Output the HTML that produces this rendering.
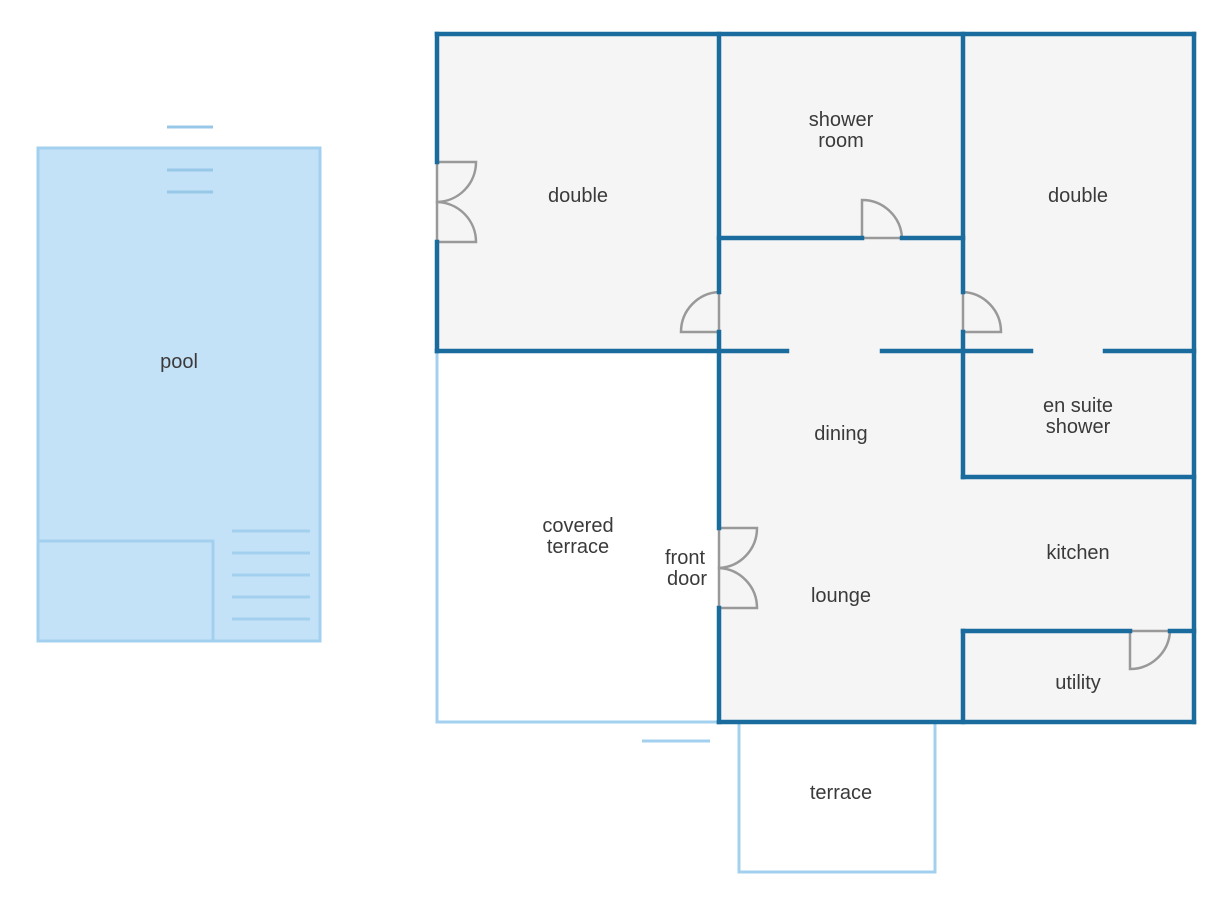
<!DOCTYPE html>
<html><head><meta charset="utf-8"><style>
html,body{margin:0;padding:0;background:#fff;}
svg{display:block;}
text{font-family:"Liberation Sans",sans-serif;font-size:20px;fill:#3a3a3a;text-anchor:middle;}
</style></head><body>
<svg width="1229" height="904" viewBox="0 0 1229 904" xmlns="http://www.w3.org/2000/svg">
<rect x="38" y="148" width="282" height="493" fill="#c4e2f7" stroke="#a3d0ef" stroke-width="3"/>
<g stroke="#98c8e8" stroke-width="3">
<line x1="167" y1="127" x2="213" y2="127"/>
<line x1="167" y1="170" x2="213" y2="170"/>
<line x1="167" y1="192" x2="213" y2="192"/>
</g>
<g stroke="#a3d0ef" stroke-width="3" fill="none">
<polyline points="38,541 213,541 213,641"/>
<line x1="232" y1="531" x2="310" y2="531"/>
<line x1="232" y1="553" x2="310" y2="553"/>
<line x1="232" y1="575" x2="310" y2="575"/>
<line x1="232" y1="597" x2="310" y2="597"/>
<line x1="232" y1="619" x2="310" y2="619"/>
</g>
<rect x="437" y="34" width="282" height="317" fill="#f5f5f5"/>
<rect x="719" y="34" width="475" height="688" fill="#f5f5f5"/>
<g stroke="#a3d0ef" stroke-width="3" fill="none">
<polyline points="437,351 437,722 719,722"/>
<polyline points="739,722 739,872 935,872 935,722"/>
<line x1="642" y1="741" x2="710" y2="741"/>
</g>
<g stroke="#999" stroke-width="2.5" fill="#f5f5f5">
<path d="M437,162 L476,162 A40,40 0 0 1 437,202 Z"/>
<path d="M437,242 L476,242 A40,40 0 0 0 437,202 Z"/>
<path d="M719,528 L757,528 A40,40 0 0 1 719,568 Z"/>
<path d="M719,608 L757,608 A40,40 0 0 0 719,568 Z"/>
<path d="M719,332 L681,332 A40,40 0 0 1 719,292 Z"/>
<path d="M963,332 L1001,332 A40,40 0 0 0 963,292 Z"/>
<path d="M862,238 L862,200 A40,40 0 0 1 902,238 Z"/>
<path d="M1130,631 L1130,669 A40,40 0 0 0 1170,631 Z"/>
</g>
<g stroke="#1b6c9e" stroke-width="4.5" fill="none" stroke-linecap="square">
<line x1="437" y1="34" x2="1194" y2="34"/>
<line x1="437" y1="34" x2="437" y2="162"/>
<line x1="437" y1="242" x2="437" y2="351"/>
<line x1="1194" y1="34" x2="1194" y2="722"/>
<line x1="719" y1="722" x2="1194" y2="722"/>
<line x1="719" y1="34" x2="719" y2="292"/>
<line x1="719" y1="332" x2="719" y2="528"/>
<line x1="719" y1="608" x2="719" y2="722"/>
<line x1="437" y1="351" x2="787" y2="351"/>
<line x1="882" y1="351" x2="1031" y2="351"/>
<line x1="1105" y1="351" x2="1194" y2="351"/>
<line x1="963" y1="34" x2="963" y2="292"/>
<line x1="963" y1="332" x2="963" y2="477"/>
<line x1="719" y1="238" x2="862" y2="238"/>
<line x1="902" y1="238" x2="963" y2="238"/>
<line x1="963" y1="477" x2="1194" y2="477"/>
<line x1="963" y1="631" x2="1130" y2="631"/>
<line x1="1170" y1="631" x2="1194" y2="631"/>
<line x1="963" y1="631" x2="963" y2="722"/>
</g>
<text x="179" y="368">pool</text>
<text x="578" y="202">double</text>
<text x="841" y="126">shower</text>
<text x="841" y="147">room</text>
<text x="1078" y="202">double</text>
<text x="1078" y="412">en suite</text>
<text x="1078" y="433">shower</text>
<text x="841" y="440">dining</text>
<text x="578" y="532">covered</text>
<text x="578" y="553">terrace</text>
<text x="685" y="564">front</text>
<text x="687" y="585">door</text>
<text x="841" y="602">lounge</text>
<text x="1078" y="559">kitchen</text>
<text x="1078" y="689">utility</text>
<text x="841" y="799">terrace</text>
</svg>
</body></html>
